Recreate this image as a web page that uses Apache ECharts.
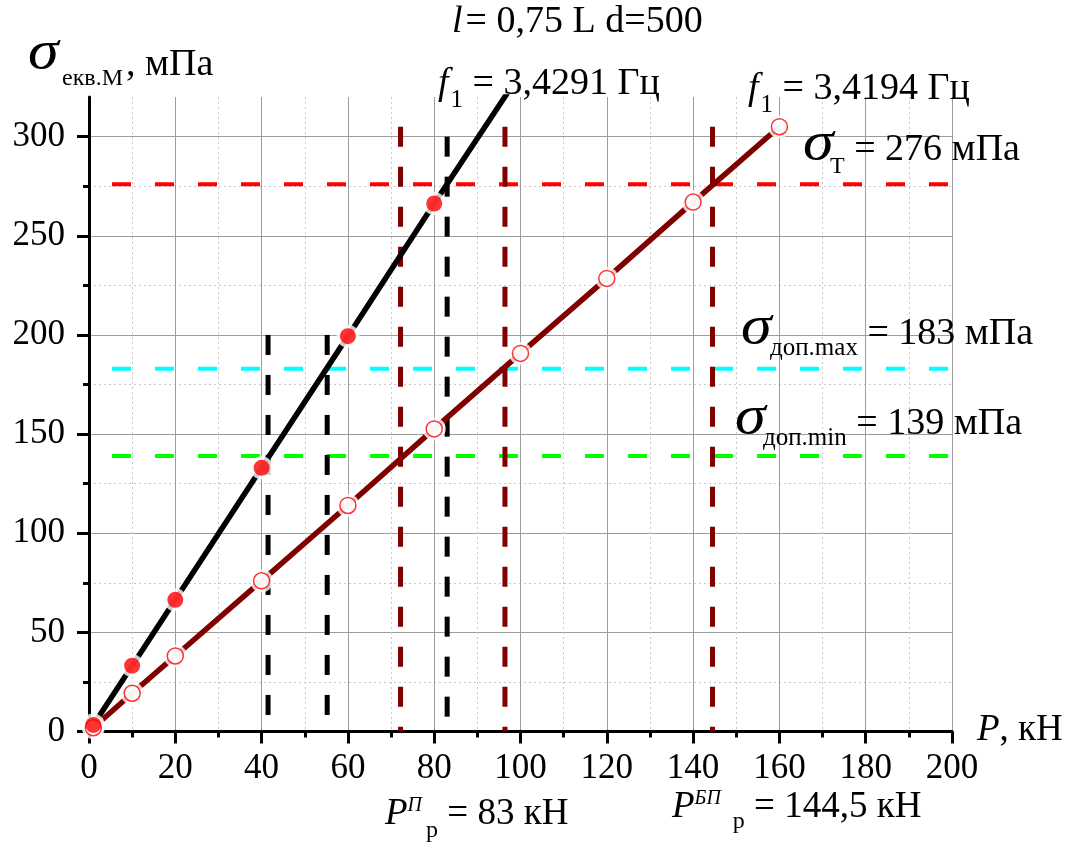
<!DOCTYPE html>
<html>
<head>
<meta charset="utf-8">
<script src="https://cdn.jsdelivr.net/npm/echarts@6/dist/echarts.min.js"></script>
<style>
html,body{margin:0;padding:0;background:#fff;}
#main{width:1073px;height:845px;}
</style>
</head>
<body>
<div id="main"></div>
<script>
// ---- data ----
const loadA = [1, 10, 20, 40, 60, 80];
const stressA = [3.3, 33.2, 66.4, 133.0, 199.4, 266.3];
const tailA = [[100, 332]]; // line continues past the plot top (clipped)
const loadB = [1, 10, 20, 40, 60, 80, 100, 120, 140, 160];
const stressB = [1.9, 19.3, 38.1, 76.0, 114.0, 152.6, 190.7, 228.5, 267.0, 305.0];
const limitLevels = [276, 183, 139];
const blackMarkX = [41.5, 55.2, 83];
const blackMarkTop = [200, 200, 300];
const redMarkX = [72.2, 96.4, 144.5];
const redMarkTop = [305, 305, 305];
const xRange = [0, 200];
const yRange = [0, 320];
const yTickMax = 300;

// ---- styles ----
const limitColors = ['#ff0000', '#00ffff', '#00ff00'];
const FONT = '"Liberation Serif", "Times New Roman", serif';

const chart = echarts.init(document.getElementById('main'), null, {renderer: 'canvas'});

const ptsA = loadA.map((x, i) => [x, stressA[i]]);
const ptsB = loadB.map((x, i) => [x, stressB[i]]);

const series = [];
limitLevels.forEach((v, i) => {
  series.push({
    type: 'line', xAxisIndex: 0, yAxisIndex: 0, silent: true, symbol: 'none', z: 3,
    data: [[xRange[0], v], [xRange[1], v]],
    lineStyle: {color: limitColors[i], width: 4, type: [19, 24], dashOffset: 20, cap: 'butt'}
  });
});
blackMarkX.forEach((x, i) => {
  series.push({
    type: 'line', xAxisIndex: 0, yAxisIndex: 0, silent: true, symbol: 'none', z: 4,
    data: [[x, blackMarkTop[i]], [x, 0]],
    lineStyle: {color: '#000', width: 5, type: [20, 20], cap: 'butt'}
  });
});
redMarkX.forEach((x, i) => {
  series.push({
    type: 'line', xAxisIndex: 0, yAxisIndex: 0, silent: true, symbol: 'none', z: 4,
    data: [[x, redMarkTop[i]], [x, 0]],
    lineStyle: {color: '#800000', width: 5, type: [20, 20], cap: 'butt'}
  });
});
series.push({
  type: 'line', xAxisIndex: 0, yAxisIndex: 0, silent: true, symbol: 'none', z: 5, clip: true,
  data: ptsA.concat(tailA),
  lineStyle: {color: '#000', width: 5.5}
});
series.push({
  type: 'line', xAxisIndex: 0, yAxisIndex: 0, silent: true, symbol: 'none', z: 5, clip: true,
  data: ptsB,
  lineStyle: {color: '#800000', width: 5.5}
});
series.push({
  type: 'scatter', xAxisIndex: 0, yAxisIndex: 0, silent: true, z: 6,
  data: ptsA.concat(ptsB), symbol: 'circle', symbolSize: 23,
  itemStyle: {color: '#fff'}
});
series.push({
  type: 'scatter', xAxisIndex: 0, yAxisIndex: 0, silent: true, z: 7,
  data: ptsB, symbol: 'circle', symbolSize: 16,
  itemStyle: {color: '#fff', borderColor: '#ff0000', borderWidth: 1.5}
});
series.push({
  type: 'scatter', xAxisIndex: 0, yAxisIndex: 0, silent: true, z: 8,
  data: ptsA, symbol: 'circle', symbolSize: 16,
  itemStyle: {color: '#ff0000'}
});

// ---- annotation text helper ----
const mctx = document.createElement('canvas').getContext('2d');
function fontStr(p) { return (p.it ? 'italic ' : '') + p.s + 'px ' + FONT; }
function seq(x, base, parts) {
  let cx = x;
  const out = [];
  parts.forEach(p => {
    const f = fontStr(p);
    mctx.font = f;
    const sx = p.sx || 1;
    const w = mctx.measureText(p.t).width * sx;
    if (p.x !== undefined) cx = p.x;
    out.push({
      type: 'text', z: 50, silent: true,
      x: cx, y: base + (p.dy || 0) - 0.3375 * p.s, scaleX: sx,
      style: {text: p.t, font: f, fill: '#000', align: 'left', verticalAlign: 'middle'}
    });
    cx += w + (p.g || 0);
  });
  return out;
}

const graphics = [].concat(
  seq(452, 35, [{t: 'l', s: 38, it: true, g: 3}, {t: '= 0,75 L d=500', s: 38}]),
  seq(28, 72, [{t: 'σ', s: 54, it: true, sx: 1.15}, {t: 'екв.М', s: 24, dy: 15, x: 62}, {t: ', мПа', s: 38, dy: 6, x: 126}]),
  seq(438, 97, [{t: 'f', s: 38, it: true, g: 2}, {t: '1', s: 25, dy: 12, g: 0}, {t: ' = 3,4291 Гц', s: 38}]),
  seq(748, 102, [{t: 'f', s: 38, it: true, g: 2}, {t: '1', s: 25, dy: 12, g: 0}, {t: ' = 3,4194 Гц', s: 38}]),
  seq(803, 163, [{t: 'σ', s: 54, it: true, sx: 1.15}, {t: 'Т', s: 24, dy: 12, x: 830}, {t: ' = 276 мПа', s: 38}]),
  seq(741, 347, [{t: 'σ', s: 54, it: true, sx: 1.15}, {t: 'доп.max', s: 25, dy: 10, x: 770}, {t: ' = 183 мПа', s: 38}]),
  seq(735, 437, [{t: 'σ', s: 54, it: true, sx: 1.15}, {t: 'доп.min', s: 25, dy: 10, x: 763}, {t: ' = 139 мПа', s: 38}]),
  seq(977, 743, [{t: 'P', s: 37, it: true, g: 0}, {t: ', кН', s: 37}]),
  seq(385, 827, [{t: 'P', s: 37, it: true, g: 0}, {t: 'П', s: 20, it: true, dy: -15, g: 4}, {t: 'р', s: 24, dy: 12, g: 0}, {t: ' = 83 кН', s: 37}]),
  seq(672, 820, [{t: 'P', s: 37, it: true, g: 0}, {t: 'БП', s: 20, it: true, dy: -15, g: 12}, {t: 'р', s: 24, dy: 10, g: 0}, {t: ' = 144,5 кН', s: 37}])
);

const option = {
  animation: false,
  backgroundColor: '#fff',
  grid: [
    {left: 89, right: 121, top: 97, bottom: 113.5, containLabel: false},
    {left: 89, right: 121, top: 845 - 113.5 - (845 - 97 - 113.5) * yTickMax / yRange[1], bottom: 113.5, containLabel: false}
  ],
  xAxis: [
    {
      type: 'value', gridIndex: 0, min: xRange[0], max: xRange[1], interval: 20,
      axisLine: {show: true, onZero: false, lineStyle: {color: '#000', width: 3}},
      axisTick: {show: true, length: 12, lineStyle: {color: '#000', width: 3}},
      minorTick: {show: true, splitNumber: 2, length: 6, lineStyle: {color: '#000', width: 3}},
      axisLabel: {show: true, margin: 20, color: '#000', fontSize: 35, fontFamily: FONT},
      splitLine: {show: true, lineStyle: {color: '#9c9c9c', width: 1}},
      minorSplitLine: {show: true, lineStyle: {color: '#c8c8c8', width: 1, type: [2, 3]}}
    },
    {
      type: 'value', gridIndex: 1, min: xRange[0], max: xRange[1], show: false
    }
  ],
  yAxis: [
    {
      type: 'value', gridIndex: 0, min: yRange[0], max: yRange[1],
      axisLine: {show: true, onZero: false, lineStyle: {color: '#000', width: 3}},
      axisTick: {show: false}, axisLabel: {show: false}, splitLine: {show: false}
    },
    {
      type: 'value', gridIndex: 1, min: 0, max: yTickMax, interval: 50,
      axisLine: {show: false},
      axisTick: {show: true, length: 12, lineStyle: {color: '#000', width: 3}},
      minorTick: {show: true, splitNumber: 2, length: 6, lineStyle: {color: '#000', width: 3}},
      axisLabel: {show: true, margin: 24, color: '#000', fontSize: 35, fontFamily: FONT},
      splitLine: {show: true, lineStyle: {color: '#9c9c9c', width: 1}},
      minorSplitLine: {show: true, lineStyle: {color: '#c8c8c8', width: 1, type: [2, 3]}}
    }
  ],
  series: series,
  graphic: graphics
};
chart.setOption(option);
</script>
</body>
</html>
